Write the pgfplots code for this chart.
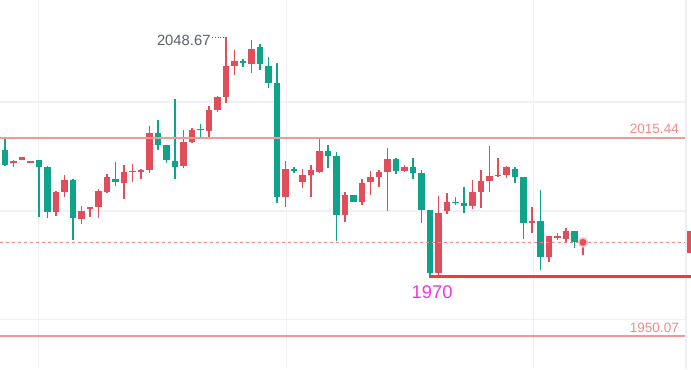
\documentclass[border=0pt]{standalone}
\usepackage{fontspec}
\setmainfont{Liberation Sans}
\usepackage{pgfplots}
\pgfplotsset{compat=1.18}
\usepackage{pgfplotstable}
\definecolor{cred}{HTML}{E04E5C}
\definecolor{cgreen}{HTML}{0FA38A}
\definecolor{gridc}{HTML}{F0F1F5}
\definecolor{bordc}{HTML}{EDEFF4}
\definecolor{levelc}{RGB}{246,150,150}
\definecolor{leveltxt}{HTML}{F08A8A}
\definecolor{mag}{HTML}{EE33EE}
\definecolor{hotred}{HTML}{F53838}
\definecolor{labgray}{HTML}{5A606B}
\definecolor{halo}{HTML}{F6C6CB}

% red (up) candles: index, body bottom (open), body top (close), low, high
\pgfplotstableread{
i  bl      bt      wl      wh
2  2006.99 2007.75 2005.67 2008.08
3  2008.08 2008.97 2007.98 2009.07
4  2007.25 2007.75 2007.20 2007.80
7  1990.81 1997.41 1989.59 1997.94
8  1997.41 2001.47 1995.76 2003.13
10 1988.50 1991.24 1986.95 1992.89
11 1991.80 1992.46 1989.16 1992.56
12 1992.46 1997.94 1988.83 1998.40
13 1997.41 2002.37 1997.08 2003.46
15 2000.39 2004.02 1995.30 2006.33
16 2004.02 2004.55 2000.81 2006.86
17 2004.02 2004.78 2001.90 2005.01
18 2004.78 2017.09 2003.69 2019.30
22 2006.10 2013.92 2005.34 2017.98
23 2013.92 2017.98 2013.59 2018.54
25 2017.75 2024.58 2015.24 2025.90
26 2024.58 2028.78 2024.02 2029.21
27 2028.78 2039.11 2026.80 2048.67
28 2039.11 2040.76 2036.14 2044.39
30 2039.67 2044.82 2036.90 2047.69
34 1995.86 2005.11 1992.46 2007.91
36 2000.72 2003.13 1998.74 2005.21
37 2003.13 2004.78 1995.76 2006.43
38 2004.22 2011.05 2003.69 2015.01
41 1989.92 1996.52 1987.51 1997.61
43 1994.11 2000.39 1993.22 2001.90
44 2000.72 2002.37 1996.52 2004.45
45 2002.37 2004.02 1999.26 2004.78
46 2004.02 2008.41 1991.34 2011.94
48 2004.45 2005.87 2004.22 2006.43
52 1970.67 1990.68 1969.90 1996.19
53 1991.24 1994.31 1990.25 1997.08
56 1992.99 1997.41 1991.80 2001.47
57 1997.41 2001.14 1992.33 2004.78
58 2001.24 2002.80 1997.61 2012.70
59 2002.80 2003.25 2002.56 2008.64
60 2003.23 2005.67 2002.04 2006.10
63 1987.38 1988.04 1984.08 1992.66
65 1976.15 1982.99 1974.50 1982.99
66 1982.45 1982.95 1981.67 1983.88
67 1981.90 1984.74 1981.10 1985.53
69 1980.50 1981.00 1976.70 1981.30
}\redcandles

% green (down) candles: index, body bottom (close), body top (open), low, high
\pgfplotstableread{
i  bl      bt      wl      wh
1  2006.43 2011.38 2006.10 2015.24
5  2005.87 2008.08 1989.16 2008.08
6  1990.81 2005.67 1988.83 2006.10
9  1988.83 2001.47 1981.67 2001.80
14 2000.72 2001.80 1999.49 2007.32
19 2013.13 2017.09 2011.38 2021.28
20 2008.08 2013.03 2007.19 2013.03
21 2005.87 2007.75 2001.71 2028.32
24 2017.85 2018.31 2015.77 2019.96
29 2040.10 2040.66 2038.88 2041.32
31 2039.67 2045.28 2037.79 2046.37
32 2033.40 2039.11 2031.75 2042.18
33 1995.86 2033.40 1993.78 2040.20
35 2004.51 2005.11 2003.69 2005.77
39 2009.50 2011.05 2005.34 2013.03
40 1989.92 2009.40 1981.44 2010.82
42 1994.11 1996.52 1994.11 1996.52
47 2004.45 2008.41 2003.46 2008.64
49 2003.69 2005.87 2001.80 2008.64
50 1991.57 2003.69 1987.18 2004.78
51 1970.67 1991.57 1970.10 1991.57
54 1993.78 1994.31 1993.22 1995.76
55 1992.99 1993.78 1990.68 1999.06
61 2002.37 2005.11 2000.58 2005.67
62 1987.18 2002.37 1982.00 2002.37
64 1975.96 1987.94 1971.76 1998.17
68 1981.10 1984.74 1978.93 1984.74
}\greencandles

\begin{document}
\begin{tikzpicture}
\begin{axis}[
  width=691pt, height=369pt, scale only axis,
  xmin=0.4118, xmax=81.706, ymin=1939.08, ymax=2060.90,
  axis lines=none, ticks=none, clip=true,
  wick/.style={draw=none, mark=none, forget plot,
    error bars/.cd, y dir=plus, y explicit, error mark=none},
]
% grid
\addplot[color=gridc, line width=1.2pt, forget plot] coordinates {(0.4,2027.23)(81.0,2027.23)};
\addplot[color=gridc, line width=1.2pt, forget plot] coordinates {(0.4,1991.24)(81.0,1991.24)};
\addplot[color=gridc, line width=1.2pt, forget plot] coordinates {(0.4,1955.42)(81.0,1955.42)};
\addplot[color=gridc, line width=1.2pt, forget plot] coordinates {(4.94,1939)(4.94,2061)};
\addplot[color=gridc, line width=1.2pt, forget plot] coordinates {(34.12,1939)(34.12,2061)};
\addplot[color=gridc, line width=1.2pt, forget plot] coordinates {(63.18,1939)(63.18,2061)};
\addplot[color=bordc, line width=1.8pt, forget plot] coordinates {(81.08,1939)(81.08,2061)};
% wicks
\addplot[wick, error bar style={draw=cred, line width=1.2pt}]
  table[x=i, y=wl, y error plus expr=\thisrow{wh}-\thisrow{wl}, y error minus expr=0] {\redcandles};
\addplot[wick, error bar style={draw=cgreen, line width=1.2pt}]
  table[x=i, y=wl, y error plus expr=\thisrow{wh}-\thisrow{wl}, y error minus expr=0] {\greencandles};
% bodies
\addplot[wick, error bar style={draw=cred, line width=6.6pt}]
  table[x=i, y=bl, y error plus expr=\thisrow{bt}-\thisrow{bl}, y error minus expr=0] {\redcandles};
\addplot[wick, error bar style={draw=cgreen, line width=6.6pt}]
  table[x=i, y=bl, y error plus expr=\thisrow{bt}-\thisrow{bl}, y error minus expr=0] {\greencandles};
% levels (drawn over candles)
\addplot[draw=levelc, line width=1.7pt, forget plot] coordinates {(0.4,1950.07)(81.0,1950.07)};
\addplot[draw=levelc, line width=1.7pt, forget plot] coordinates {(0.4,2015.44)(81.0,2015.44)};
\addplot[draw=leveltxt, line width=0.9pt, dash pattern=on 3pt off 3pt, forget plot] coordinates {(0.4,1980.91)(81.0,1980.91)};
% last price dot
\addplot[color=halo, only marks, mark=*, mark size=5pt, mark options={fill=halo, draw=halo}, forget plot] coordinates {(69,1980.9)};
\addplot[color=cred, only marks, mark=*, mark size=3.2pt, mark options={fill=cred, draw=cred}, forget plot] coordinates {(69,1980.9)};
% support line
\addplot[draw=hotred, line width=2.8pt, forget plot] coordinates {(50.9,1969.5)(81.8,1969.5)};
% dotted leader to high
\addplot[draw=labgray, line width=0.8pt, dotted, forget plot] coordinates {(25.35,2048.67)(26.9,2048.67)};
% price box at right edge
\fill[cred] (axis cs:81.2,1977.37) rectangle (axis cs:81.8,1984.64);
% labels
\node[anchor=east, inner sep=0pt, text=leveltxt, font=\fontsize{13.5}{14}\selectfont] at (axis cs:80.29,2018.2) {2015.44};
\node[anchor=east, inner sep=0pt, text=leveltxt, font=\fontsize{13.5}{14}\selectfont] at (axis cs:80.29,1952.6) {1950.07};
\node[inner sep=0pt, text=mag, font=\fontsize{18.4}{20}\selectfont] at (axis cs:51.24,1964.5) {1970};
\node[anchor=east, inner sep=0pt, text=labgray, font=\fontsize{14.8}{16}\selectfont] at (axis cs:25.2,2047.46) {2048.67};
\end{axis}
\end{tikzpicture}
\end{document}
